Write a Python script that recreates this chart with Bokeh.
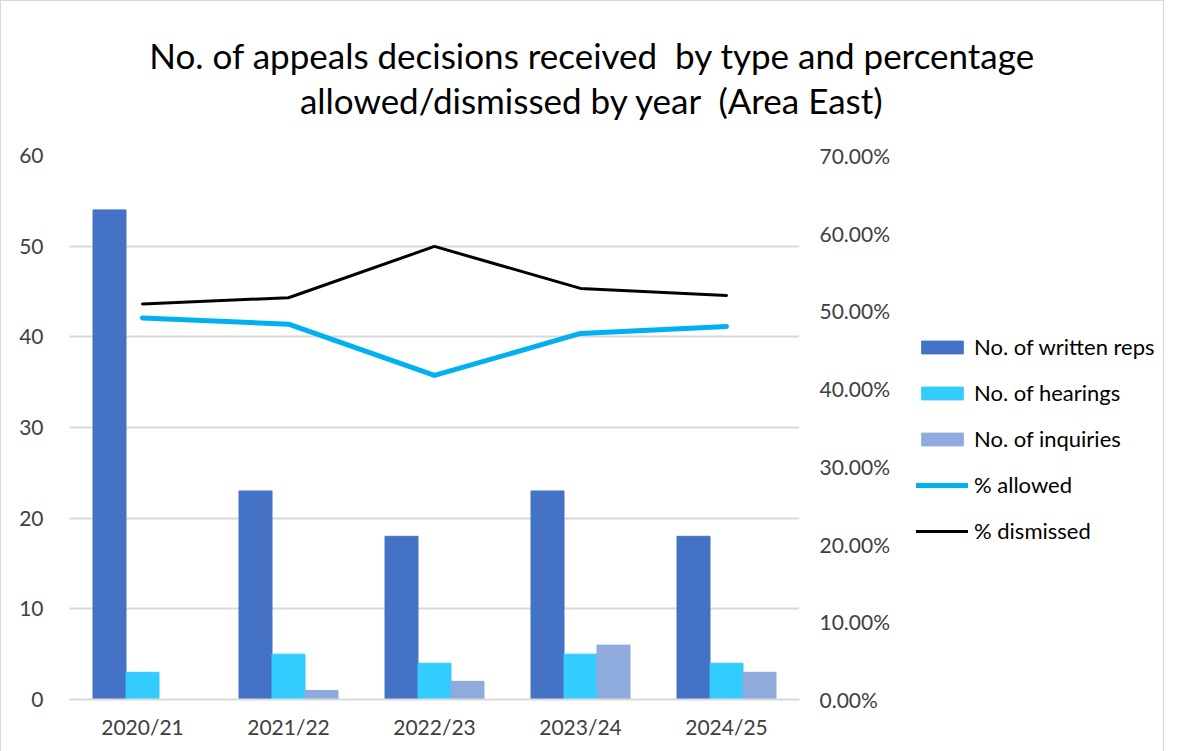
from bokeh.plotting import figure
from bokeh.layouts import row, column
from bokeh.models import (FactorRange, Range1d, LinearAxis, NumeralTickFormatter,
                          Legend, LegendItem, FixedTicker, Label)
from bokeh.transform import dodge
from bokeh.embed import file_html
from bokeh.resources import INLINE

years = ["2020/21", "2021/22", "2022/23", "2023/24", "2024/25"]
written_reps = [54, 23, 18, 23, 18]
hearings = [3, 5, 4, 5, 4]
inquiries = [0, 1, 2, 6, 3]
pct_allowed = [0.491, 0.483, 0.417, 0.471, 0.480]
pct_dismissed = [0.509, 0.517, 0.583, 0.529, 0.520]
left_ticks = [0, 10, 20, 30, 40, 50, 60]
right_ticks = [0.0, 0.1, 0.2, 0.3, 0.4, 0.5, 0.6, 0.7]
title_lines = ["No. of appeals decisions received \u00a0by type and percentage",
               "allowed/dismissed by year \u00a0(Area East)"]
series_names = ["No. of written reps", "No. of hearings", "No. of inquiries",
                "% allowed", "% dismissed"]

FONT = "Lato"
TXT = "#404040"
AX_FS = "21px"
C_WR, C_HE, C_IN, C_AL, C_DI = "#4472c4", "#33ccff", "#8faadc", "#00b0f0", "#000000"

# ---- title strip ----
TH = 140
tf = figure(width=1162, height=TH, output_backend="svg", toolbar_location=None,
            x_range=Range1d(0, 1162), y_range=Range1d(0, TH),
            x_axis_type=None, y_axis_type=None,
            min_border_left=0, min_border_right=0, min_border_top=0, min_border_bottom=0)
tf.grid.grid_line_color = None
tf.outline_line_color = None
for i, t in enumerate(title_lines):
    tf.add_layout(Label(x=591, y=87 - i * 45, text=t, text_align="center",
                        text_baseline="middle", text_font=FONT, text_font_size="35px",
                        text_color="#000000"))

# ---- main chart ----
p = figure(x_range=FactorRange(*years), y_range=Range1d(0, 60),
           frame_width=730, frame_height=544, output_backend="svg", toolbar_location=None,
           min_border_left=68, min_border_right=100, min_border_top=14, min_border_bottom=52)
p.extra_y_ranges = {"pct": Range1d(0, 0.70)}
p.title = None

w = 0.226
p.vbar(x=dodge("x", -w, range=p.x_range), top="y", width=w, color=C_WR,
       source={"x": years, "y": written_reps})
p.vbar(x=dodge("x", 0, range=p.x_range), top="y", width=w, color=C_HE,
       source={"x": years, "y": hearings})
p.vbar(x=dodge("x", w, range=p.x_range), top="y", width=w, color=C_IN,
       source={"x": years, "y": inquiries})
p.line(years, pct_allowed, y_range_name="pct", line_color=C_AL, line_width=5,
       line_cap="round", line_join="round")
p.line(years, pct_dismissed, y_range_name="pct", line_color=C_DI, line_width=3,
       line_cap="round", line_join="round")

p.yaxis.ticker = FixedTicker(ticks=left_ticks)
p.yaxis.axis_line_color = None
p.yaxis.major_tick_line_color = None
p.yaxis.minor_tick_line_color = None
p.yaxis.major_label_text_font = FONT
p.yaxis.major_label_text_font_size = AX_FS
p.yaxis.major_label_text_color = TXT
p.yaxis.major_label_standoff = 20

ry = LinearAxis(y_range_name="pct", ticker=FixedTicker(ticks=right_ticks),
                formatter=NumeralTickFormatter(format="0.00%"))
ry.axis_line_color = None
ry.major_tick_line_color = None
ry.minor_tick_line_color = None
ry.major_label_text_font = FONT
ry.major_label_text_font_size = AX_FS
ry.major_label_text_color = TXT
ry.major_label_standoff = 14
p.add_layout(ry, "right")

p.xaxis.axis_line_color = "#d9d9d9"
p.xaxis.axis_line_width = 2
p.xaxis.major_tick_line_color = None
p.xaxis.minor_tick_line_color = None
p.xaxis.major_label_text_font = FONT
p.xaxis.major_label_text_font_size = AX_FS
p.xaxis.major_label_text_color = TXT
p.xaxis.major_label_standoff = 8

p.xgrid.grid_line_color = None
p.ygrid.grid_line_color = "#d9d9d9"
p.ygrid.grid_line_width = 2
p.outline_line_color = None

# ---- legend panel ----
QH = 14 + 544 + 52
q = figure(width=262, height=QH, output_backend="svg", toolbar_location=None,
           x_range=Range1d(0, 1), y_range=Range1d(0, 1),
           x_axis_type=None, y_axis_type=None,
           min_border_left=0, min_border_right=0, min_border_top=0, min_border_bottom=0)
q.grid.grid_line_color = None
q.outline_line_color = None
k1 = q.vbar(x=[5], top=[1], width=0.1, color=C_WR)
k2 = q.vbar(x=[5], top=[1], width=0.1, color=C_HE)
k3 = q.vbar(x=[5], top=[1], width=0.1, color=C_IN)
k4 = q.line(x=[5, 6], y=[5, 5], line_color=C_AL, line_width=5, line_cap="round")
k5 = q.line(x=[5, 6], y=[5, 5], line_color=C_DI, line_width=3, line_cap="round")
legend = Legend(items=[LegendItem(label=n, renderers=[r]) for n, r in
                       zip(series_names, [k1, k2, k3, k4, k5])],
                location=(17, 155), orientation="vertical")
legend.label_text_font = FONT
legend.label_text_font_size = "22px"
legend.label_text_color = "#000000"
legend.glyph_width = 52
legend.glyph_height = 16
legend.spacing = 19
legend.label_standoff = 6
legend.border_line_color = None
legend.background_fill_alpha = 0
legend.padding = 0
legend.margin = 0
q.add_layout(legend)

layout = column(tf, row(p, q, spacing=0), spacing=0,
                styles={"border": "1px solid #d9d9d9"})

open("out.html", "w").write(file_html(layout, INLINE))
